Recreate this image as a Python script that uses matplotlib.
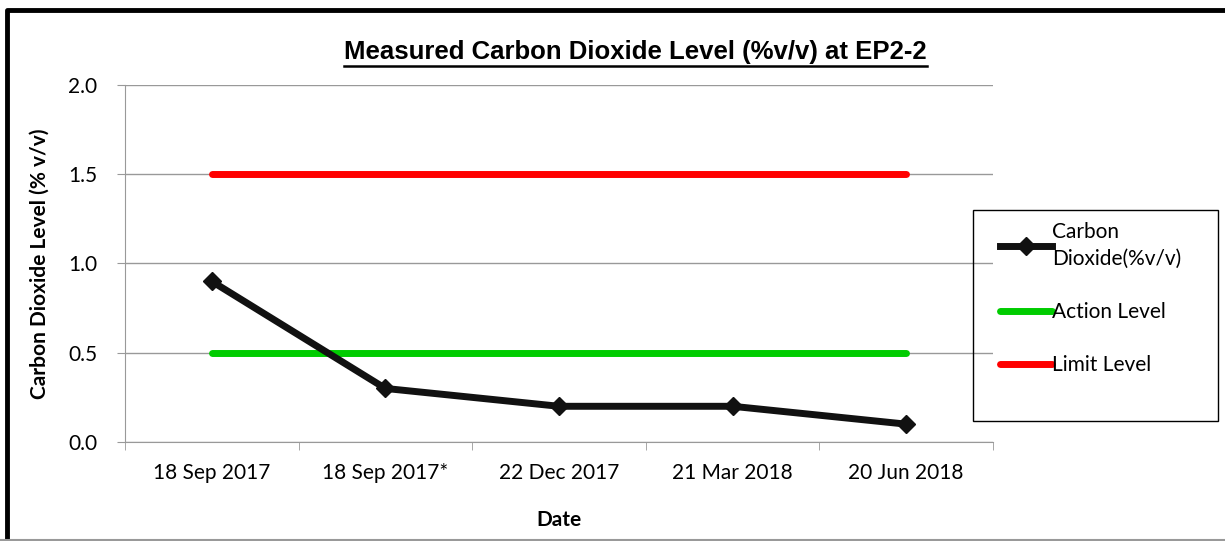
import matplotlib
matplotlib.use('Agg')
import matplotlib.pyplot as plt
from matplotlib.lines import Line2D
from matplotlib.patches import Rectangle

plt.rcParams['font.family'] = ['Lato', 'DejaVu Sans']

# 数据
dates = ['18 Sep 2017', '18 Sep 2017*', '22 Dec 2017', '21 Mar 2018', '20 Jun 2018']
co2 = [0.9, 0.3, 0.2, 0.2, 0.1]
action_level = [0.5, 0.5, 0.5, 0.5, 0.5]
limit_level = [1.5, 1.5, 1.5, 1.5, 1.5]
yticks = [0.0, 0.5, 1.0, 1.5, 2.0]

fig = plt.figure(figsize=(12.25, 5.41), dpi=100)
ax = fig.add_axes([0.102, 0.183, 0.7086, 0.660])

x = list(range(len(dates)))
ax.plot(x, limit_level, color='#ff0000', lw=5, solid_capstyle='round', label='Limit Level', zorder=3)
ax.plot(x, action_level, color='#00cc00', lw=5, solid_capstyle='round', label='Action Level', zorder=3)
ax.plot(x, co2, color='#111111', lw=5, marker='D', markersize=9, label='Carbon\nDioxide(%v/v)', zorder=4)

ax.set_xlim(-0.5, len(dates) - 0.5)
ax.set_ylim(0, 2.0)
ax.set_yticks(yticks)
ax.set_yticklabels(['%.1f' % v for v in yticks], fontsize=15)
ax.set_xticks(x)
ax.set_xticklabels(dates, fontsize=15)
ax.tick_params(axis='x', length=0, pad=15)
ax.set_xticks([i - 0.5 for i in range(len(dates) + 1)], minor=True)
ax.tick_params(axis='x', which='minor', length=6, color='#999999', direction='out')
ax.tick_params(axis='y', length=6, color='#999999', direction='out', pad=14)

ax.grid(axis='y', color='#999999', lw=1)
ax.set_axisbelow(True)
for s in ['top', 'right']:
    ax.spines[s].set_visible(False)
ax.spines['left'].set_color('#999999')
ax.spines['bottom'].set_color('#999999')

ax.set_xlabel('Date', fontsize=15, fontweight='bold')
ax.xaxis.set_label_coords(0.5, -0.19)
ax.set_ylabel('Carbon Dioxide Level (% v/v)', fontsize=15, fontweight='bold')
ax.yaxis.set_label_coords(-0.087, 0.5)

# 标题（带下划线）
title = fig.text(0.519, 0.904, 'Measured Carbon Dioxide Level (%v/v) at EP2-2',
                 ha='center', va='center', fontsize=18.5, fontweight='bold',
                 family='Liberation Sans')
fig.canvas.draw()
bb = title.get_window_extent().transformed(fig.transFigure.inverted())
fig.add_artist(Line2D([bb.x0, bb.x1], [bb.y0 - 0.003, bb.y0 - 0.003], color='black', lw=1.8))

# 图例
handles, labels = ax.get_legend_handles_labels()
leg = ax.legend(handles[::-1], labels[::-1], loc='upper left',
                bbox_to_anchor=(992 / 1225, 1 - 214 / 541),
                bbox_transform=fig.transFigure, borderaxespad=0,
                fontsize=15, frameon=False,
                handlelength=2.5, handletextpad=0.0, labelspacing=1.6, borderpad=0.4)
for t in leg.get_texts():
    t.set_linespacing(1.4)
fig.add_artist(Rectangle((973 / 1225, 1 - 421 / 541), 245 / 1225, 211 / 541,
                         transform=fig.transFigure, fill=False, edgecolor='black', lw=1.0))

# 外框
fig.add_artist(Line2D([0.0055, 0.0055, 1.0], [0.0, 0.981, 0.981], color='black', lw=3.5))
fig.add_artist(Line2D([0.0, 1.0], [0.002, 0.002], color='#999999', lw=1.5))

fig.savefig('out.png', dpi=100)
